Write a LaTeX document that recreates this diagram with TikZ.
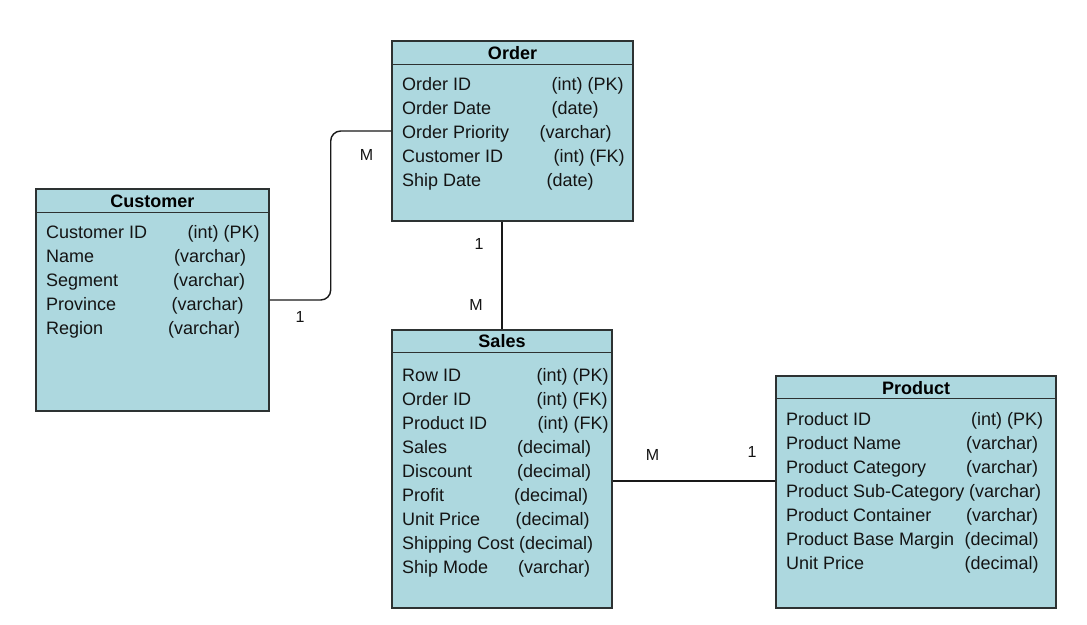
\documentclass[tikz,border=0pt]{standalone}
\usepackage{fontspec}
\setmainfont{Liberation Sans}
\definecolor{boxfill}{RGB}{173,216,223}
\definecolor{boxline}{RGB}{45,50,50}
\definecolor{txt}{RGB}{20,20,20}
\begin{document}
\begin{tikzpicture}[x=1pt,y=-1pt,
  entity/.style={draw=boxline,line width=1.4pt,fill=boxfill,inner sep=0pt,rectangle},
  hdr/.style={anchor=base,inner sep=0pt,font=\fontsize{18}{21}\selectfont\bfseries,text=black},
  fld/.style={anchor=base west,inner sep=0pt,font=\fontsize{18}{21}\selectfont,text=txt},
  card/.style={inner sep=0pt,font=\fontsize{16}{19}\selectfont,text=txt},
  link/.style={draw=black!90,line width=1.4pt}]
\useasboundingbox (0,0) rectangle (1087,624);
\fill[white] (0,0) rectangle (1087,624);

% Boxes
\node[entity,minimum width=241pt,minimum height=180pt] (order) at (512.5,131) {};
\node[entity,minimum width=233pt,minimum height=222pt] (customer) at (152.5,300) {};
\node[entity,minimum width=220pt,minimum height=278pt] (sales) at (502,469) {};
\node[entity,minimum width=280pt,minimum height=232pt] (product) at (916,492) {};

% header separators
\draw[boxline,line width=1.4pt] ([yshift=-24pt]order.north west) -- ([yshift=-24pt]order.north east);
\draw[boxline,line width=1.4pt] ([yshift=-24pt]customer.north west) -- ([yshift=-24pt]customer.north east);
\draw[boxline,line width=1.4pt] ([yshift=-23pt]sales.north west) -- ([yshift=-23pt]sales.north east);
\draw[boxline,line width=1.4pt] ([yshift=-23pt]product.north west) -- ([yshift=-23pt]product.north east);

% Order
\node[hdr] (orderT) at (512.5,59) {Order};
\node[fld] (o1) at (402,90) {Order ID};
\node[fld] (o1t) at (551.5,90) {(int) (PK)};
\node[fld] (o2) at (402,114) {Order Date};
\node[fld] (o2t) at (551.5,114) {(date)};
\node[fld] (o3) at (402,138) {Order Priority};
\node[fld] (o3t) at (539.5,138) {(varchar)};
\node[fld] (o4) at (402,162) {Customer ID};
\node[fld] (o4t) at (553.5,162) {(int) (FK)};
\node[fld] (o5) at (402,186) {Ship Date};
\node[fld] (o5t) at (546.5,186) {(date)};

% Customer
\node[hdr] (customerT) at (152.5,207) {Customer};
\node[fld] (c1) at (46,238) {Customer ID};
\node[fld] (c1t) at (187.5,238) {(int) (PK)};
\node[fld] (c2) at (46,262) {Name};
\node[fld] (c2t) at (174,262) {(varchar)};
\node[fld] (c3) at (46,286) {Segment};
\node[fld] (c3t) at (173,286) {(varchar)};
\node[fld] (c4) at (46,310) {Province};
\node[fld] (c4t) at (171.5,310) {(varchar)};
\node[fld] (c5) at (46,334) {Region};
\node[fld] (c5t) at (168,334) {(varchar)};

% Sales
\node[hdr] (salesT) at (502,347) {Sales};
\node[fld] (s1) at (402,381) {Row ID};
\node[fld] (s1t) at (536.5,381) {(int) (PK)};
\node[fld] (s2) at (402,405) {Order ID};
\node[fld] (s2t) at (536.5,405) {(int) (FK)};
\node[fld] (s3) at (402,429) {Product ID};
\node[fld] (s3t) at (537.5,429) {(int) (FK)};
\node[fld] (s4) at (402,453) {Sales};
\node[fld] (s4t) at (517,453) {(decimal)};
\node[fld] (s5) at (402,477) {Discount};
\node[fld] (s5t) at (517,477) {(decimal)};
\node[fld] (s6) at (402,501) {Profit};
\node[fld] (s6t) at (514,501) {(decimal)};
\node[fld] (s7) at (402,525) {Unit Price};
\node[fld] (s7t) at (515.5,525) {(decimal)};
\node[fld] (s8) at (402,549) {Shipping Cost};
\node[fld] (s8t) at (519,549) {(decimal)};
\node[fld] (s9) at (402,573) {Ship Mode};
\node[fld] (s9t) at (518,573) {(varchar)};

% Product
\node[hdr] (productT) at (916,394) {Product};
\node[fld] (p1) at (786,425) {Product ID};
\node[fld] (p1t) at (971,425) {(int) (PK)};
\node[fld] (p2) at (786,449) {Product Name};
\node[fld] (p2t) at (966,449) {(varchar)};
\node[fld] (p3) at (786,473) {Product Category};
\node[fld] (p3t) at (966,473) {(varchar)};
\node[fld] (p4) at (786,497) {Product Sub-Category};
\node[fld] (p4t) at (969,497) {(varchar)};
\node[fld] (p5) at (786,521) {Product Container};
\node[fld] (p5t) at (966,521) {(varchar)};
\node[fld] (p6) at (786,545) {Product Base Margin};
\node[fld] (p6t) at (964.5,545) {(decimal)};
\node[fld] (p7) at (786,569) {Unit Price};
\node[fld] (p7t) at (964.5,569) {(decimal)};

% Connectors
\draw[link,rounded corners=10pt] (customer.east) -- ++(61,0) |- (order.west);
\draw[link] (order.south -| sales.north) -- (sales.north);
\draw[link] ([yshift=-12pt]sales.east) -- ([yshift=-12pt]sales.east -| product.west);

% Cardinalities
\node[card] (l1) at (366.5,154.5) {M};
\node[card] (l2) at (300,317) {1};
\node[card] (l3) at (479,244) {1};
\node[card] (l4) at (476,305) {M};
\node[card] (l5) at (652.5,454.5) {M};
\node[card] (l6) at (752,452) {1};
\end{tikzpicture}
\end{document}
